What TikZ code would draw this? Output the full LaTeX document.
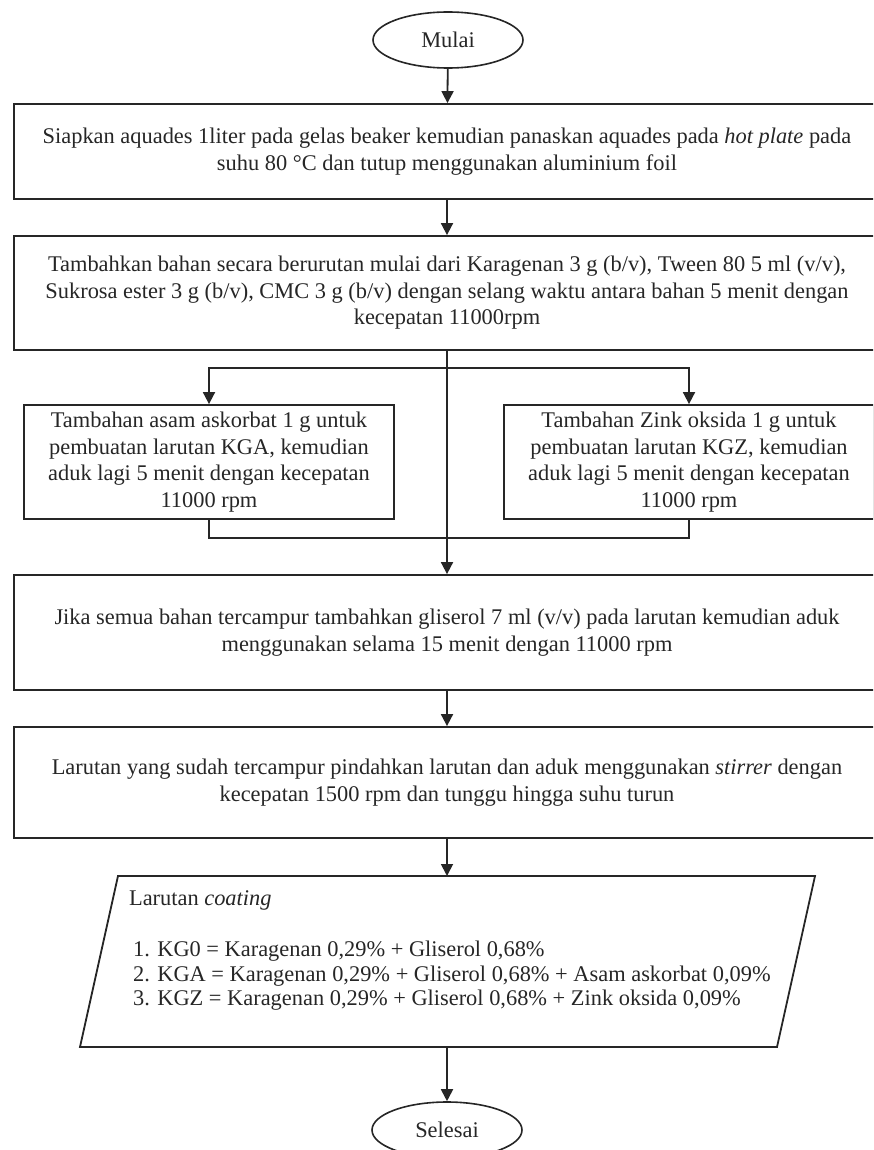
\documentclass[tikz,border=0pt]{standalone}
\usepackage{fontspec}
\setmainfont{Liberation Serif}
\usetikzlibrary{arrows.meta, shapes.geometric}

\begin{document}
\begin{tikzpicture}[x=0.5pt, y=-0.5pt,
    every node/.style={font=\fontsize{11.2}{13.3}\selectfont, text=black!85},
    term/.style={ellipse, draw=black!85, line width=0.8pt, minimum width=75pt, minimum height=28pt, inner sep=0pt},
    procbox/.style={rectangle, draw=black!85, line width=0.9pt, align=center, minimum width=433pt, inner sep=0pt},
    subbox/.style={rectangle, draw=black!85, line width=0.9pt, align=center, minimum width=185pt, minimum height=57pt, inner sep=0pt},
    arr/.style={draw=black!85, line width=0.9pt, -{Triangle[length=6pt,width=6pt]}},
    link/.style={draw=black!85, line width=0.9pt}]
    % border
    \useasboundingbox (0,0) rectangle (873,1150);
    \clip (0,0) rectangle (873,1150);
    % elements
    \node[term] (start) at (448,40) {Mulai};
    \node[procbox, minimum height=47.5pt] (heat) at (447,151.5) {Siapkan aquades 1liter pada gelas beaker kemudian panaskan aquades pada \textit{hot plate} pada\\ suhu 80 °C dan tutup menggunakan aluminium foil};
    \node[procbox, minimum height=57pt] (add) at (447,293) {Tambahkan bahan secara berurutan mulai dari Karagenan 3 g (b/v), Tween 80 5 ml (v/v),\\ Sukrosa ester 3 g (b/v), CMC 3 g (b/v) dengan selang waktu antara bahan 5 menit dengan\\ kecepatan 11000rpm};
    \node[subbox] (kga) at (209,462) {Tambahan asam askorbat 1 g untuk\\ pembuatan larutan KGA, kemudian\\ aduk lagi 5 menit dengan kecepatan\\ 11000 rpm};
    \node[subbox] (kgz) at (689,462) {Tambahan Zink oksida 1 g untuk\\ pembuatan larutan KGZ, kemudian\\ aduk lagi 5 menit dengan kecepatan\\ 11000 rpm};
    \node[procbox, minimum height=57.5pt] (mix) at (447,632.5) {Jika semua bahan tercampur tambahkan gliserol 7 ml (v/v) pada larutan kemudian aduk\\ menggunakan selama 15 menit dengan 11000 rpm};
    \node[procbox, minimum height=55.5pt] (stir) at (447,782.5) {Larutan yang sudah tercampur pindahkan larutan dan aduk menggunakan \textit{stirrer} dengan\\ kecepatan 1500 rpm dan tunggu hingga suhu turun};
    % coating parallelogram
    \coordinate (coattop) at (447,876);
    \coordinate (coatbot) at (428,1047);
    \draw[link] (118,876) -- (815,876) -- (777,1047) -- (80,1047) -- cycle;
    \node[anchor=north west, align=left] (coattext) at (122,884) {Larutan \textit{coating}\\[12pt]
        \hspace*{2pt}1. KG0 = Karagenan 0,29\% + Gliserol 0,68\%\\[-1pt]
        \hspace*{2pt}2. KGA = Karagenan 0,29\% + Gliserol 0,68\% + Asam askorbat 0,09\%\\[-1pt]
        \hspace*{2pt}3. KGZ = Karagenan 0,29\% + Gliserol 0,68\% + Zink oksida 0,09\%};
    \node[term] (finish) at (447,1130) {Selesai};
    % connectors
    \coordinate (split) at (447,368);
    \coordinate (join) at (447,538);
    \draw[arr] (start) -- (heat);
    \draw[arr] (heat) -- (add);
    \draw[arr] (add) -- (mix);
    \draw[arr] (split) -| (kga);
    \draw[arr] (split) -| (kgz);
    \draw[link] (kga) |- (join) -| (kgz);
    \draw[arr] (mix) -- (stir);
    \draw[arr] (stir) -- (coattop);
    \draw[arr] (coattop |- coatbot) -- (finish);
\end{tikzpicture}
\end{document}
